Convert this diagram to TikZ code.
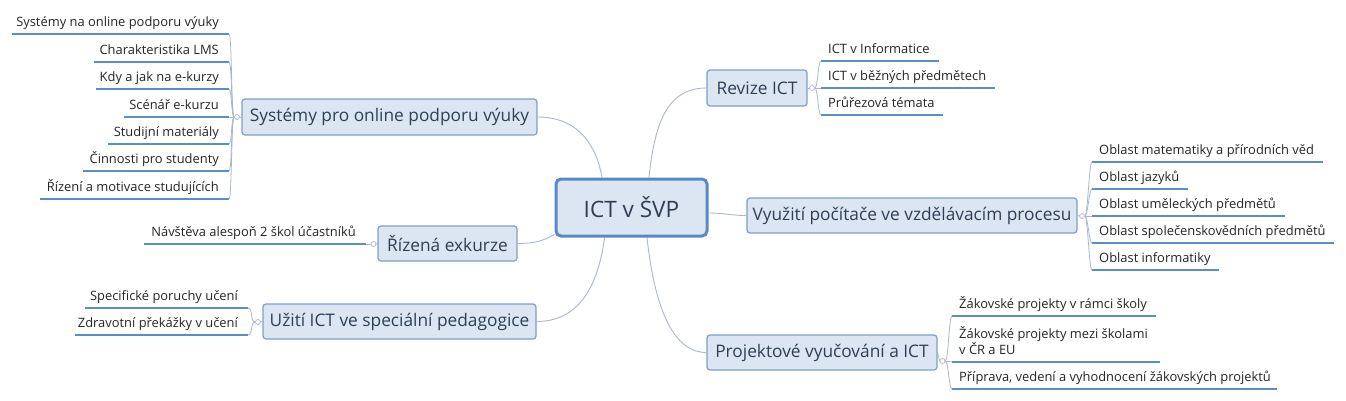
\documentclass[tikz,border=0pt]{standalone}
\usepackage{fontspec}
\setmainfont{Open Sans}
\usetikzlibrary{calc,backgrounds}
\definecolor{cFill}{HTML}{DCE6F2}
\definecolor{cBox}{HTML}{7F9FC8}
\definecolor{cMain}{HTML}{5A88C4}
\definecolor{cConn}{HTML}{A9B8CC}
\definecolor{cUl}{HTML}{5B8DC8}
\definecolor{cMainText}{HTML}{2E3F55}
\definecolor{cLeafText}{HTML}{262626}
\tikzset{
  branch/.style={draw=cBox, fill=cFill, rounded corners=3pt, line width=1.2pt,
    text=cMainText, font=\fontsize{17.3}{20}\selectfont, inner sep=0pt},
  central/.style={draw=cMain, fill=cFill, rounded corners=5pt, line width=3pt,
    text=cMainText, font=\fontsize{22.6}{26}\selectfont, inner sep=0pt},
  leaf/.style={text=cLeafText, font=\fontsize{12.9}{16.5}\selectfont, inner sep=0pt},
  ul/.style={draw=cUl, line width=2pt},
  conn/.style={draw=cConn, line width=0.9pt},
  brace/.style={draw=cConn, line width=0.8pt},
  knob/.style={circle, draw=cConn, fill=white, line width=0.7pt, minimum size=5pt, inner sep=0pt}
}
\newcommand\leafL[5]{%
  \coordinate (#1e) at (#2,#3);
  \coordinate (#1w) at (#4,#3);
  \node[leaf, anchor=base east] (#1) at (#2-10,#3-7.5) {#5};
  \draw[ul] (#1w) -- (#1e);
}
\newcommand\leafR[5]{%
  \coordinate (#1w) at (#2,#3);
  \coordinate (#1e) at (#4,#3);
  \node[leaf, anchor=base west] (#1) at (#2+7,#3-7.5) {#5};
  \draw[ul] (#1w) -- (#1e);
}
\begin{document}
\begin{tikzpicture}[x=1pt,y=-1pt]
\useasboundingbox (0,0) rectangle (1346,400);

% central and branch boxes
\node[central, minimum width=151pt, minimum height=57pt] (c) at (631.5,207.5) {ICT v ŠVP};
\node[branch, minimum width=295pt, minimum height=36pt] (sys) at (389.5,117) {Systémy pro online podporu výuky};
\node[branch, minimum width=139pt, minimum height=35pt] (riz) at (447.5,243.5) {Řízená exkurze};
\node[branch, minimum width=273pt, minimum height=35pt] (uzi) at (399.5,321.5) {Užití ICT ve speciální pedagogice};
\node[branch, minimum width=100pt, minimum height=36pt] (rev) at (757,88) {Revize ICT};
\node[branch, minimum width=330pt, minimum height=35pt] (vyu) at (912,215.5) {Využití počítače ve vzdělávacím procesu};
\node[branch, minimum width=230pt, minimum height=35pt] (pro) at (822,352.5) {Projektové vyučování a ICT};

% knobs
\node[knob] (sysK) at (237,117) {};
\node[knob] (rizK) at (373.5,244) {};
\node[knob] (uziK) at (258,322) {};
\node[knob] (revK) at (812,88) {};
\node[knob] (vyuK) at (1082,216) {};
\node[knob] (proK) at (942.5,361) {};

\begin{scope}[on background layer]
\fill[white] (0,0) rectangle (1346,400);
\draw[conn] ([xshift=-29.5pt]c.north) .. controls +(-5,-29) and +(43,0) .. (sys.east);
\draw[conn] ([xshift=17.5pt]c.north) .. controls +(6,-59) and +(-37,0) .. (rev.west);
\draw[conn] ([yshift=-5.5pt]c.east) .. controls +(18,0) and +(-17,0) .. (vyu.west);
\draw[conn] ([yshift=3pt]c.south west) .. controls +(-11,6) and +(18,0) .. (riz.east);
\draw[conn] ([xshift=-27pt]c.south) .. controls +(-7,54) and +(39,0) .. (uzi.east);
\draw[conn] ([xshift=15.5pt]c.south) .. controls +(8,74) and +(-32,0) .. (pro.west);
\draw[brace] (sys.west) -- (sysK.east);
\draw[brace] (riz.west) -- (rizK.east);
\draw[brace] (uzi.west) -- (uziK.east);
\draw[brace] (rev.east) -- (revK.west);
\draw[brace] (vyu.east) -- (vyuK.west);
\draw[brace] (pro.east) -- (proK.west);
\end{scope}

% left top leaves
\leafL{sa}{229}{34}{12}{Systémy na online podporu výuky}
\leafL{sb}{229}{62}{94}{Charakteristika LMS}
\leafL{sc}{229}{89}{96}{Kdy a jak na e-kurzy}
\leafL{sd}{229}{117}{124}{Scénář e-kurzu}
\leafL{se}{229}{144}{108}{Studijní materiály}
\leafL{sf}{229}{171}{83}{Činnosti pro studenty}
\leafL{sg}{229}{199}{40}{Řízení a motivace studujících}
\foreach \n in {sa,sb,sc,sd,se,sf,sg}
  \draw[brace] (sysK.west) .. controls +(-3,0) and +(3,0) .. (\n e);

% exkurze leaf
\leafL{ra}{366}{244}{144}{Návštěva alespoň 2 škol účastníků}
\draw[brace] (rizK.west) -- (rae);

% special pedagogy leaves
\leafL{ua}{248}{308}{85}{Specifické poruchy učení}
\leafL{ub}{248}{335}{75}{Zdravotní překážky v učení}
\foreach \n in {ua,ub}
  \draw[brace] (uziK.west) .. controls +(-5,0) and +(5,0) .. (\n e);

% revize leaves
\leafR{va}{821}{61}{939}{ICT v Informatice}
\leafR{vb}{821}{88}{995}{ICT v běžných předmětech}
\leafR{vc}{821}{115}{943}{Průřezová témata}
\foreach \n in {va,vb,vc}
  \draw[brace] (revK.east) .. controls +(3,0) and +(-3,0) .. (\n w);

% vyuziti leaves
\leafR{wa}{1092}{162}{1323}{Oblast matematiky a přírodních věd}
\leafR{wb}{1092}{189}{1188}{Oblast jazyků}
\leafR{wc}{1092}{216}{1285}{Oblast uměleckých předmětů}
\leafR{wd}{1092}{243}{1334}{Oblast společenskovědních předmětů}
\leafR{we}{1092}{270}{1219}{Oblast informatiky}
\foreach \n in {wa,wb,wc,wd,we}
  \draw[brace] (vyuK.east) .. controls +(3,0) and +(-3,0) .. (\n w);

% projekt leaves
\leafR{pa}{952}{316}{1156}{Žákovské projekty v rámci školy}
\coordinate (pbw) at (952,362);
\coordinate (pbe) at (1160,362);
\node[leaf, anchor=base west, align=left] (pb) at (959,354.5) {Žákovské projekty mezi školami\\v ČR a EU};
\draw[ul] (pbw) -- (pbe);
\leafR{pc}{952}{389}{1277}{Příprava, vedení a vyhodnocení žákovských projektů}
\foreach \n in {pa,pb,pc}
  \draw[brace] (proK.east) .. controls +(3,0) and +(-3,0) .. (\n w);
\end{tikzpicture}
\end{document}
